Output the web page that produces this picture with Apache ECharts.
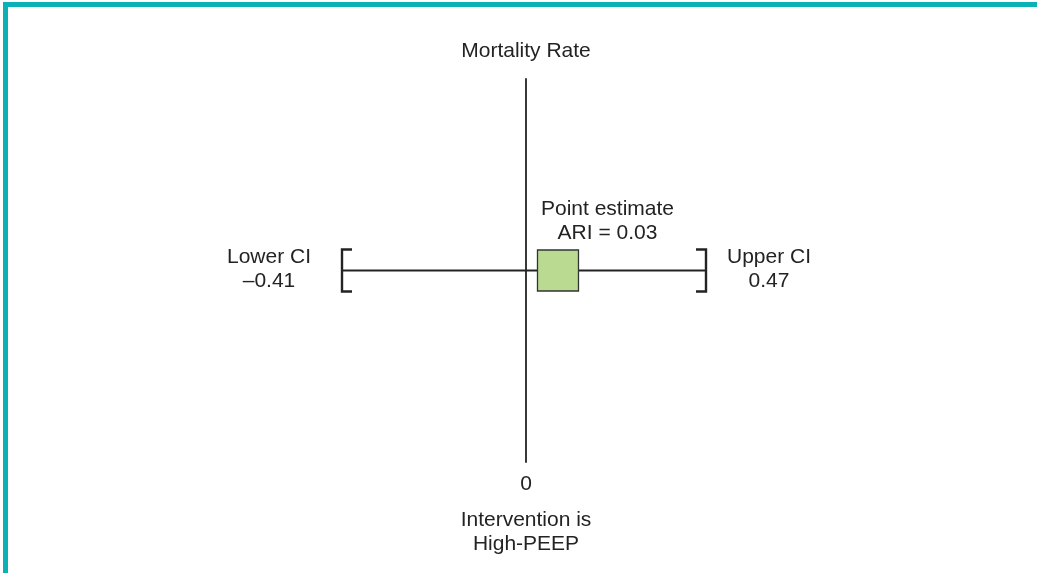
<!DOCTYPE html>
<html><head><meta charset="utf-8">
<script src="https://cdn.jsdelivr.net/npm/echarts@6/dist/echarts.min.js"></script>
<style>
html,body{margin:0;padding:0;background:#fff;}
#chart{position:absolute;left:0;top:0;width:1037px;height:573px;}
#frame{position:absolute;left:3px;top:2px;width:1034px;height:571px;border-top:5px solid #0cb1b5;border-left:5px solid #0cb1b5;box-sizing:border-box;pointer-events:none;}
</style></head><body>
<div id="chart"></div><div id="frame"></div>
<script>
// ---- data ----
const outcome = 'Mortality Rate';
const interventionLabel = ['Intervention is', 'High-PEEP'];
const nullValue = 0;
const lowerCI = -0.41;
const upperCI = 0.47;
const pointEstimate = 0.03;
const ciLabels = ['Lower CI', 'Upper CI'];
const estimateLabels = ['Point estimate', 'ARI'];

// ---- styles ----
const INK = '#232323';
const FONT = "'Liberation Sans', Arial, Helvetica, sans-serif";
const FS = 21;
const LH = 24;

function fmt(v){ return (v < 0 ? '\u2013' : '') + Math.abs(v).toFixed(2); }

const chart = echarts.init(document.getElementById('chart'), null, {renderer:'canvas'});

function bracket(x, y, dir){
  return {type:'polyline', shape:{points:[[x+dir*10,y-21],[x,y-21],[x,y+21],[x+dir*10,y+21]]},
    style:{stroke:INK, lineWidth:2.4, fill:null}};
}

const option = {
  animation:false,
  backgroundColor:'#ffffff',
  grid:[
    {left:342, right:1037-526, top:79, bottom:111},
    {left:526, right:1037-706, top:79, bottom:111}
  ],
  xAxis:[
    {gridIndex:0, type:'value', min:lowerCI, max:nullValue, show:false},
    {gridIndex:1, type:'value', min:nullValue, max:upperCI,
     axisLine:{show:false}, axisTick:{show:false}, splitLine:{show:false},
     axisLabel:{customValues:[nullValue], formatter:v=>String(v), margin:12,
       fontSize:FS, fontFamily:FONT, color:INK}}
  ],
  yAxis:[
    {gridIndex:0, type:'value', min:-1, max:1, position:'right',
     axisLine:{show:false}, axisTick:{show:false}, axisLabel:{show:false}, splitLine:{show:false},
     name:interventionLabel.join('\n'), nameLocation:'start', nameGap:46,
     nameTextStyle:{fontSize:FS, fontFamily:FONT, color:INK, lineHeight:LH, align:'center'}},
    {gridIndex:1, type:'value', min:-1, max:1,
     axisLine:{show:true, lineStyle:{color:INK, width:1.8}}, axisTick:{show:false},
     axisLabel:{show:false}, splitLine:{show:false},
     name:outcome, nameLocation:'end', nameGap:16,
     nameTextStyle:{fontSize:FS, fontFamily:FONT, color:INK, lineHeight:LH}}
  ],
  series:[
    {type:'custom', xAxisIndex:0, yAxisIndex:0, clip:false,
     data:[[lowerCI, 0]],
     renderItem:(params, api)=>{
       const p = api.coord([api.value(0), 0]);
       const z = api.coord([nullValue, 0]);
       return {type:'group', children:[
         {type:'line', shape:{x1:p[0], y1:p[1], x2:z[0], y2:z[1]}, style:{stroke:INK, lineWidth:1.8}},
         bracket(p[0], p[1], 1),
         {type:'text', x:p[0]-73, y:p[1]-1, style:{text:ciLabels[0]+'\n'+fmt(api.value(0)),
           align:'center', verticalAlign:'middle', fontSize:FS, fontFamily:FONT, fill:INK, lineHeight:LH}}
       ]};
     }},
    {type:'custom', xAxisIndex:1, yAxisIndex:1, clip:false,
     data:[[upperCI, pointEstimate]],
     renderItem:(params, api)=>{
       const z = api.coord([nullValue, 0]);
       const p = api.coord([api.value(0), 0]);
       const e = api.coord([api.value(1), 0]);
       const s = 41;
       return {type:'group', children:[
         {type:'line', shape:{x1:z[0], y1:z[1], x2:p[0], y2:p[1]}, style:{stroke:INK, lineWidth:1.8}},
         bracket(p[0], p[1], -1),
         {type:'rect', shape:{x:e[0], y:e[1]-s/2, width:s, height:s},
           style:{fill:'#b9da90', stroke:'#333333', lineWidth:1.3}},
         {type:'text', x:p[0]+63, y:p[1]-1, style:{text:ciLabels[1]+'\n'+fmt(api.value(0)),
           align:'center', verticalAlign:'middle', fontSize:FS, fontFamily:FONT, fill:INK, lineHeight:LH}},
         {type:'text', x:e[0]+70, y:e[1]-49, style:{text:estimateLabels[0]+'\n'+estimateLabels[1]+' = '+fmt(api.value(1)),
           align:'center', verticalAlign:'middle', fontSize:FS, fontFamily:FONT, fill:INK, lineHeight:LH}}
       ]};
     }}
  ]
};
chart.setOption(option);
</script>
</body></html>
